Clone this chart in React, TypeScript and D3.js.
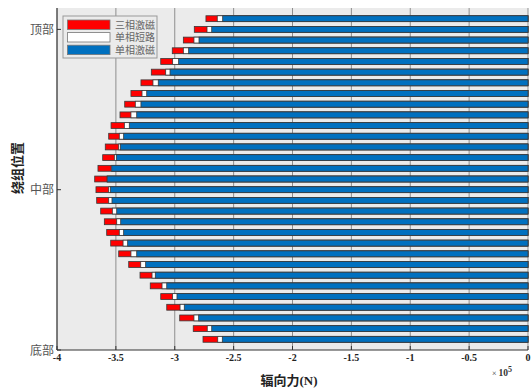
import React from "react";
import * as d3 from "d3";

// bar index 1 = bottom (底部), 31 = top (顶部); values in units of 1e5 N
const positions = d3.range(1, 32);
const threePhase = [
  -2.76, -2.843, -2.958, -3.068, -3.119, -3.208, -3.295, -3.391, -3.476, -3.544,
  -3.578, -3.598, -3.629, -3.663, -3.669, -3.68, -3.652, -3.612, -3.59, -3.561,
  -3.541, -3.465, -3.425, -3.372, -3.287, -3.199, -3.119, -3.021, -2.927, -2.834,
  -2.735,
];
const singleShort = [
  -2.635, -2.724, -2.837, -2.955, -3.018, -3.108, -3.193, -3.289, -3.372, -3.439,
  -3.471, -3.493, -3.53, -3.561, -3.561, -3.575, -3.54, -3.513, -3.476, -3.471,
  -3.428, -3.372, -3.335, -3.278, -3.185, -3.077, -3.018, -2.927, -2.837, -2.726,
  -2.639,
];
const singleExc = [
  -2.596, -2.686, -2.797, -2.919, -2.981, -3.068, -3.165, -3.247, -3.323, -3.4,
  -3.434, -3.459, -3.493, -3.533, -3.547, -3.573, -3.535, -3.496, -3.462, -3.434,
  -3.386, -3.323, -3.287, -3.238, -3.14, -3.04, -2.967, -2.882, -2.794, -2.686,
  -2.593,
];
const xTicks = [-4, -3.5, -3, -2.5, -2, -1.5, -1, -0.5, 0];
const yTickVals = [0, 15, 30];
const yTickLabels = ["底部", "中部", "顶部"];
const seriesNames = ["三相激磁", "单相短路", "单相激磁"];
const seriesColors = ["#ff0000", "#ffffff", "#0070bf"];

const W = 531;
const H = 389;
const left = 57;
const right = 528;
const top = 8;
const bottom = 350;

export default function App() {
  const x = d3.scaleLinear().domain([-4, 0]).range([left, right]);
  const y = d3.scaleLinear().domain([0, 32]).range([bottom, top]);
  const step = Math.abs(y(1) - y(0));
  const bh = step * 0.55;
  const series = [threePhase, singleShort, singleExc];
  const serif = "'Liberation Serif', 'Times New Roman', 'Noto Sans CJK SC', serif";
  const cjk = "'Liberation Serif', 'Noto Sans CJK SC', serif";

  return (
    <svg
      width={W}
      height={H}
      style={{ position: "absolute", left: 0, top: 0, background: "#fff" }}
    >
      <rect x={left} y={top} width={right - left} height={bottom - top} fill="#ebebeb" />
      {xTicks.map((t) => (
        <line key={"g" + t} x1={x(t)} x2={x(t)} y1={top} y2={bottom} stroke="#8e8e8e" strokeWidth={1} />
      ))}
      {series.map((vals, si) => (
        <g key={"s" + si}>
          {vals.map((v, i) => (
            <rect
              key={i}
              x={x(v)}
              y={y(positions[i]) - bh / 2}
              width={x(0) - x(v)}
              height={bh}
              fill={seriesColors[si]}
              stroke="#3a3a3a"
              strokeWidth={0.8}
            />
          ))}
        </g>
      ))}
      {/* axes */}
      <line x1={left} x2={left} y1={top} y2={bottom} stroke="#333" strokeWidth={1} />
      <line x1={left} x2={right} y1={bottom} y2={bottom} stroke="#333" strokeWidth={1} />
      {xTicks.map((t) => (
        <g key={"t" + t}>
          <line x1={x(t)} x2={x(t)} y1={bottom} y2={bottom - 4} stroke="#333" />
          <text
            x={x(t)}
            y={361}
            textAnchor="middle"
            fontFamily={serif}
            fontSize={10}
            fontWeight="bold"
            fill="#222"
          >
            {String(t)}
          </text>
        </g>
      ))}
      {yTickVals.map((t, i) => (
        <g key={"y" + t}>
          <line x1={left} x2={left + 4} y1={y(t)} y2={y(t)} stroke="#333" />
          <text
            x={left - 3}
            y={y(t) + 4.5}
            textAnchor="end"
            fontFamily={cjk}
            fontSize={12}
            fill="#555"
          >
            {yTickLabels[i]}
          </text>
        </g>
      ))}
      <text x={492} y={376} fontFamily={serif} fontSize={8} fill="#333">
        ×
        <tspan dx={2} fontSize={9.5} fontWeight="bold">10</tspan>
        <tspan dy={-4.5} fontSize={8} fontWeight="bold">5</tspan>
      </text>
      <text
        x={289}
        y={385}
        textAnchor="middle"
        fontFamily={cjk}
        fontSize={13}
        fontWeight="bold"
        fill="#222"
      >
        辐向力(N)
      </text>
      <text
        transform={`translate(22,${168}) rotate(-90)`}
        textAnchor="middle"
        fontFamily={cjk}
        fontSize={13}
        fontWeight="bold"
        fill="#222"
      >
        绕组位置
      </text>
      {/* legend */}
      <g>
        <rect x={63} y={16} width={94} height={42} fill="#ebebeb" stroke="#999" strokeWidth={1} />
        {seriesNames.map((n, i) => (
          <g key={n}>
            <rect
              x={67.5}
              y={20 + i * 12.6}
              width={42.5}
              height={9.4}
              fill={seriesColors[i]}
              stroke="#777"
              strokeWidth={0.8}
            />
            <text x={115} y={28.5 + i * 12.6} fontFamily={cjk} fontSize={10} fill="#666">
              {n}
            </text>
          </g>
        ))}
      </g>
    </svg>
  );
}
